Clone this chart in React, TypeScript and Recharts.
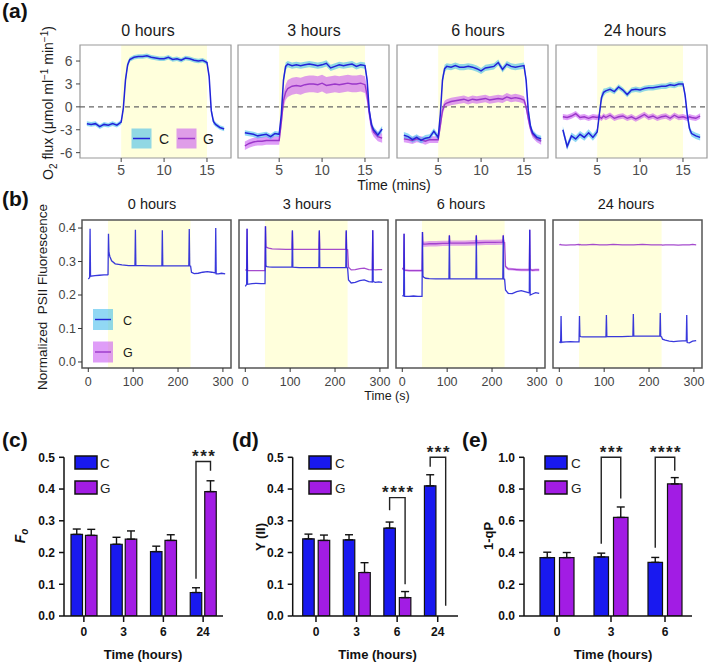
import React from 'react';
import {
  ComposedChart,
  BarChart,
  Area,
  Line,
  Bar,
  XAxis,
  YAxis,
  ReferenceArea,
  ReferenceLine,
  ErrorBar,
  LabelList,
} from 'recharts';

const FONT = '"Liberation Sans", Arial, Helvetica, sans-serif';
const YELLOW = '#FFFFDC';
const C_LINE = '#2222D8';
const G_LINE = '#9B37C9';
const C_RIBBON = '#36B8EB';
const G_RIBBON = '#C44CF2';
const RIBBON_OPACITY = 0.55;
const BAR_C = '#1919F0';
const BAR_G = '#A21CE4';
const INK = '#111111';

/* ---------- (a) O2 flux, time in minutes ---------- */
const minutes = [
  1, 1.5, 2, 2.5, 3, 3.5, 4, 4.5, 5, 5.25, 5.5, 5.75, 6, 6.5, 7, 7.5, 8, 8.5, 9, 9.5,
  10, 10.5, 11, 11.5, 12, 12.5, 13, 13.5, 14, 14.5, 15, 15.25, 15.5, 15.75, 16, 16.5, 17,
];

const fluxC0 = [
  -2.2, -2.3, -2.2, -2.6, -2.3, -2.4, -2.2, -2.4, -2.0, -0.2, 3.5, 5.5, 6.2, 6.5, 6.6, 6.6,
  6.7, 6.5, 6.4, 6.3, 6.3, 6.5, 6.2, 6.3, 6.1, 6.4, 6.3, 6.1, 6.0, 6.1, 5.8, 4.0, -0.5, -1.9,
  -2.3, -2.7, -2.9,
];
const seC0 = [
  0.3, 0.3, 0.3, 0.3, 0.3, 0.3, 0.3, 0.3, 0.3, 0.4, 0.5, 0.4, 0.3, 0.3, 0.3, 0.3, 0.3, 0.3,
  0.3, 0.3, 0.3, 0.3, 0.3, 0.3, 0.3, 0.3, 0.3, 0.3, 0.3, 0.3, 0.3, 0.4, 0.5, 0.4, 0.3, 0.3, 0.3,
];

const fluxC3 = [
  -3.4, -3.5, -3.6, -3.8, -3.7, -3.6, -3.9, -3.5, -3.6, -1.0, 3.5, 5.3, 5.6, 5.4, 5.5, 5.4,
  5.5, 5.6, 5.5, 5.4, 5.5, 5.7, 5.1, 5.3, 5.5, 5.4, 5.5, 5.6, 5.3, 5.5, 5.4, 3.5, -0.5, -2.3,
  -3.0, -3.7, -2.9,
];
const seC3 = [
  0.35, 0.35, 0.35, 0.35, 0.35, 0.35, 0.35, 0.35, 0.35, 0.5, 0.6, 0.5, 0.4, 0.4, 0.4, 0.4, 0.4,
  0.4, 0.4, 0.4, 0.4, 0.4, 0.4, 0.4, 0.4, 0.4, 0.4, 0.4, 0.4, 0.4, 0.4, 0.5, 0.6, 0.5, 0.4, 0.4, 0.4,
];
const fluxG3 = [
  -5.1, -4.8, -4.6, -4.5, -4.5, -4.4, -4.4, -4.4, -4.4, -2.0, 0.8, 1.9, 2.4, 2.7, 2.8, 2.7,
  2.9, 3.0, 3.0, 2.9, 3.1, 2.8, 2.9, 3.0, 2.9, 3.0, 3.1, 3.0, 3.0, 3.1, 2.9, 1.5, -0.8, -2.5,
  -3.3, -3.9, -4.1,
];
const seG3 = [
  0.55, 0.55, 0.55, 0.55, 0.55, 0.55, 0.55, 0.55, 0.55, 0.8, 1.0, 1.0, 1.1, 1.1, 1.1, 1.1, 1.1,
  1.1, 1.1, 1.1, 1.1, 1.1, 1.1, 1.1, 1.1, 1.1, 1.1, 1.1, 1.1, 1.1, 1.1, 1.0, 0.9, 0.8, 0.6, 0.6, 0.6,
];

const fluxC6 = [
  -3.7, -3.9, -4.3, -4.0, -4.4, -4.1, -4.0, -3.2, -4.0, -1.0, 3.5, 5.0, 5.3, 5.2, 5.4, 5.2,
  5.2, 5.3, 5.2, 5.0, 4.7, 5.1, 5.2, 5.3, 5.8, 4.9, 5.6, 5.3, 5.2, 5.3, 5.4, 3.5, -0.5, -2.5,
  -3.4, -4.0, -4.2,
];
const seC6 = [
  0.4, 0.4, 0.4, 0.4, 0.4, 0.4, 0.4, 0.4, 0.4, 0.5, 0.6, 0.5, 0.4, 0.4, 0.4, 0.4, 0.4, 0.4,
  0.4, 0.4, 0.4, 0.4, 0.4, 0.4, 0.4, 0.4, 0.4, 0.4, 0.4, 0.4, 0.4, 0.5, 0.6, 0.5, 0.4, 0.4, 0.4,
];
const fluxG6 = [
  -4.2, -4.3, -4.4, -4.2, -4.3, -4.5, -4.3, -4.3, -4.3, -2.5, -0.5, 0.3, 0.5, 0.7, 0.8, 0.9,
  1.0, 0.8, 1.0, 0.9, 1.0, 1.1, 0.9, 1.0, 1.1, 1.0, 1.3, 1.1, 1.2, 1.1, 0.9, 0.0, -1.5, -2.8,
  -3.6, -4.2, -4.5,
];
const seG6 = [
  0.45, 0.45, 0.45, 0.45, 0.45, 0.45, 0.45, 0.45, 0.45, 0.5, 0.6, 0.5, 0.5, 0.5, 0.5, 0.5, 0.5,
  0.5, 0.5, 0.5, 0.5, 0.5, 0.5, 0.5, 0.5, 0.5, 0.5, 0.5, 0.5, 0.5, 0.5, 0.5, 0.6, 0.5, 0.45, 0.45, 0.45,
];

const fluxC24 = [
  -3.0, -5.2, -3.8, -4.2, -3.6, -4.0, -3.4, -4.0, -3.3, -1.0, 1.2, 1.9, 2.1, 2.3, 2.0, 2.6,
  2.2, 1.6, 2.2, 2.3, 2.2, 2.4, 2.5, 2.5, 2.6, 2.7, 2.7, 2.9, 2.8, 3.0, 3.0, 1.5, -1.0, -2.8,
  -3.5, -3.8, -4.0,
];
const seC24 = [
  0.45, 0.45, 0.45, 0.45, 0.45, 0.45, 0.45, 0.45, 0.45, 0.5, 0.6, 0.5, 0.35, 0.35, 0.35, 0.35,
  0.35, 0.35, 0.35, 0.35, 0.35, 0.35, 0.35, 0.35, 0.35, 0.35, 0.35, 0.35, 0.35, 0.35, 0.35, 0.5,
  0.6, 0.5, 0.4, 0.4, 0.4,
];
const fluxG24 = [
  -1.3, -1.4, -1.2, -0.9, -1.4, -1.3, -1.5, -1.3, -1.4, -1.3, -1.5, -1.2, -1.4, -1.1, -1.5,
  -1.3, -1.2, -1.5, -1.3, -1.6, -1.3, -1.0, -1.4, -1.2, -1.5, -1.3, -1.2, -1.5, -1.1, -1.4,
  -1.3, -1.4, -1.5, -1.3, -1.4, -1.5, -1.2,
];
const seG24 = [
  0.35, 0.35, 0.35, 0.35, 0.35, 0.35, 0.35, 0.35, 0.35, 0.35, 0.35, 0.35, 0.35, 0.35, 0.35,
  0.35, 0.35, 0.35, 0.35, 0.35, 0.35, 0.35, 0.35, 0.35, 0.35, 0.35, 0.35, 0.35, 0.35, 0.35,
  0.35, 0.35, 0.35, 0.35, 0.35, 0.35, 0.35,
];

const fluxPanels = [
  { title: '0 hours', c: fluxC0, cSe: seC0, g: null, gSe: null },
  { title: '3 hours', c: fluxC3, cSe: seC3, g: fluxG3, gSe: seG3 },
  { title: '6 hours', c: fluxC6, cSe: seC6, g: fluxG6, gSe: seG6 },
  { title: '24 hours', c: fluxC24, cSe: seC24, g: fluxG24, gSe: seG24 },
];
const fluxDomainX = [0.2, 17.8];
const fluxDomainY = [-6.7, 8.1];
const fluxTicksX = [5, 10, 15];
const fluxTicksY = [-6, -3, 0, 3, 6];

/* ---------- (b) PSII fluorescence, time in seconds ---------- */
const seconds = [
  0, 3, 4, 5, 15, 25, 35, 43, 44, 45, 46, 48, 52, 60, 75, 90, 104, 105, 106, 120, 140, 164,
  165, 166, 185, 205, 224, 225, 226, 228, 230, 236, 245, 255, 265, 275, 283, 284, 285, 290,
  297, 305,
];

const fluoC0 = [
  0.248, 0.252, 0.398, 0.256, 0.258, 0.259, 0.26, 0.26, 0.261, 0.383, 0.328, 0.315, 0.302,
  0.293, 0.29, 0.288, 0.288, 0.395, 0.288, 0.288, 0.287, 0.287, 0.393, 0.287, 0.287, 0.287,
  0.287, 0.397, 0.287, 0.286, 0.268, 0.264, 0.265, 0.268, 0.27, 0.268, 0.266, 0.4, 0.263,
  0.263, 0.265, 0.263,
];
const fluoC3 = [
  0.226, 0.232, 0.398, 0.232, 0.234, 0.235, 0.234, 0.234, 0.234, 0.405, 0.287, 0.285, 0.284,
  0.283, 0.283, 0.283, 0.283, 0.393, 0.283, 0.282, 0.282, 0.282, 0.393, 0.282, 0.282, 0.282,
  0.282, 0.393, 0.282, 0.281, 0.245, 0.236, 0.238, 0.243, 0.245, 0.24, 0.239, 0.393, 0.24,
  0.238, 0.239, 0.238,
];
const fluoG3 = [
  0.275, 0.274, 0.398, 0.273, 0.273, 0.273, 0.273, 0.273, 0.273, 0.405, 0.344, 0.342, 0.34,
  0.338, 0.337, 0.336, 0.336, 0.39, 0.336, 0.336, 0.336, 0.336, 0.39, 0.336, 0.336, 0.336,
  0.336, 0.39, 0.336, 0.335, 0.283, 0.275, 0.276, 0.279, 0.28, 0.276, 0.275, 0.393, 0.276,
  0.275, 0.276, 0.276,
];
const fluoC6 = [
  0.198, 0.197, 0.383, 0.196, 0.196, 0.197, 0.196, 0.196, 0.196, 0.388, 0.256, 0.253, 0.25,
  0.249, 0.248, 0.248, 0.248, 0.378, 0.248, 0.248, 0.248, 0.248, 0.378, 0.248, 0.248, 0.248,
  0.248, 0.378, 0.248, 0.247, 0.215, 0.205, 0.204, 0.21, 0.213, 0.209, 0.206, 0.395, 0.2,
  0.203, 0.207, 0.205,
];
const fluoG6 = [
  0.28, 0.276, 0.383, 0.274, 0.273, 0.273, 0.273, 0.273, 0.273, 0.388, 0.352, 0.352, 0.352,
  0.353, 0.353, 0.354, 0.354, 0.378, 0.355, 0.355, 0.355, 0.356, 0.378, 0.356, 0.357, 0.357,
  0.358, 0.378, 0.358, 0.357, 0.285, 0.278, 0.277, 0.276, 0.275, 0.275, 0.275, 0.395, 0.276,
  0.274, 0.275, 0.275,
];
const fluoG6Se = [
  0.003, 0.003, 0.003, 0.003, 0.003, 0.003, 0.003, 0.003, 0.003, 0.008, 0.008, 0.008, 0.008,
  0.008, 0.008, 0.008, 0.008, 0.008, 0.008, 0.008, 0.008, 0.008, 0.008, 0.008, 0.008, 0.008,
  0.008, 0.008, 0.008, 0.008, 0.004, 0.004, 0.004, 0.004, 0.004, 0.004, 0.004, 0.004, 0.004,
  0.004, 0.004, 0.004,
];
const fluoC24 = [
  0.06, 0.058, 0.137, 0.059, 0.06, 0.061, 0.06, 0.06, 0.06, 0.137, 0.077, 0.076, 0.075, 0.075,
  0.075, 0.075, 0.075, 0.14, 0.076, 0.076, 0.076, 0.077, 0.143, 0.077, 0.077, 0.077, 0.077,
  0.146, 0.077, 0.075, 0.068, 0.065, 0.062, 0.061, 0.062, 0.063, 0.063, 0.14, 0.058, 0.057,
  0.062, 0.064,
];
const fluoG24 = [
  0.35, 0.351, 0.35, 0.35, 0.349, 0.35, 0.35, 0.351, 0.35, 0.35, 0.351, 0.35, 0.35, 0.35,
  0.351, 0.35, 0.35, 0.35, 0.35, 0.351, 0.35, 0.35, 0.35, 0.35, 0.351, 0.35, 0.35, 0.35, 0.35,
  0.35, 0.349, 0.35, 0.35, 0.35, 0.349, 0.35, 0.35, 0.35, 0.35, 0.35, 0.351, 0.35,
];

const fluoPanels = [
  { title: '0 hours', c: fluoC0, g: null, gSe: null },
  { title: '3 hours', c: fluoC3, g: fluoG3, gSe: null },
  { title: '6 hours', c: fluoC6, g: fluoG6, gSe: fluoG6Se },
  { title: '24 hours', c: fluoC24, g: fluoG24, gSe: null },
];
const fluoDomainX = [-14, 318];
const fluoDomainY = [-0.018, 0.424];
const fluoTicksX = [0, 100, 200, 300];
const fluoTicksY = [0, 0.1, 0.2, 0.3, 0.4];

/* ---------- (c)–(e) bar summaries ---------- */
const hoursFour = ['0', '3', '6', '24'];
const hoursThree = ['0', '3', '6'];

const foC = [0.257, 0.226, 0.203, 0.074];
const foCErr = [0.017, 0.022, 0.017, 0.015];
const foG = [0.254, 0.242, 0.238, 0.392];
const foGErr = [0.019, 0.026, 0.018, 0.034];
const foSig = [null, null, null, { top: 0.487, left: 0.117, right: 0.458, stars: '***' }];

const yiiC = [0.243, 0.24, 0.277, 0.41];
const yiiCErr = [0.015, 0.016, 0.019, 0.035];
const yiiG = [0.238, 0.137, 0.058, null];
const yiiGErr = [0.017, 0.031, 0.019, null];
const yiiSig = [
  null,
  null,
  { top: 0.373, left: 0.333, right: 0.1, stars: '****' },
  { top: 0.5, left: 0.47, right: 0.032, stars: '***' },
];

const qpC = [0.368, 0.372, 0.338];
const qpCErr = [0.034, 0.024, 0.031];
const qpG = [0.368, 0.621, 0.832];
const qpGErr = [0.032, 0.066, 0.04];
const qpSig = [
  null,
  { top: 1.0, left: 0.455, right: 0.74, stars: '***' },
  { top: 1.0, left: 0.43, right: 0.915, stars: '****' },
];

/* ---------- layout ---------- */
const A_X = [80, 238, 397, 556];
const A_W = 151;
const A_TOP = 45;
const A_H = 113;
const B_X = [82, 239, 396, 553];
const B_W = 149;
const B_TOP = 220;
const B_H = 148;
const M = 3;

const tickText = (size: number, fill: string) => ({ fontSize: size, fill, fontFamily: FONT });

function FluxFacet({ index }: { index: number }) {
  const p = fluxPanels[index];
  const rows = minutes.map((t, i) => ({
    t,
    c: p.c[i],
    cBand: [p.c[i] - p.cSe[i], p.c[i] + p.cSe[i]],
    g: p.g ? p.g[i] : null,
    gBand: p.g && p.gSe ? [p.g[i] - p.gSe[i], p.g[i] + p.gSe[i]] : null,
  }));
  const showY = index === 0;
  const yW = showY ? 40 : 0;
  return (
    <div style={{ position: 'absolute', left: A_X[index] - yW - M, top: A_TOP - M }}>
      <ComposedChart
        width={yW + A_W + 2 * M}
        height={M + A_H + 26}
        data={rows}
        margin={{ top: M, right: M, left: M, bottom: 0 }}
      >
        <XAxis
          dataKey="t"
          type="number"
          domain={fluxDomainX}
          ticks={fluxTicksX}
          allowDataOverflow
          interval={0}
          height={26}
          axisLine={false}
          tickSize={4}
          tickMargin={3}
          tickLine={{ stroke: '#444' }}
          tick={tickText(14, '#4D4D4D')}
        />
        <YAxis
          type="number"
          domain={fluxDomainY}
          ticks={fluxTicksY}
          allowDataOverflow
          interval={0}
          hide={!showY}
          width={40}
          axisLine={false}
          tickSize={4}
          tickMargin={3.5}
          tickLine={{ stroke: '#444' }}
          tick={tickText(14, '#4D4D4D')}
        />
        <ReferenceArea x1={5} x2={15} fill={YELLOW} fillOpacity={1} stroke="none" />
        <ReferenceLine y={0} stroke="#666" strokeWidth={1.1} strokeDasharray="5 4" />
        {p.g && (
          <Area
            dataKey="gBand"
            type="linear"
            stroke="none"
            fill={G_RIBBON}
            fillOpacity={RIBBON_OPACITY}
            isAnimationActive={false}
            activeDot={false}
          />
        )}
        <Area
          dataKey="cBand"
          type="linear"
          stroke="none"
          fill={C_RIBBON}
          fillOpacity={RIBBON_OPACITY}
          isAnimationActive={false}
          activeDot={false}
        />
        {p.g && (
          <Line
            dataKey="g"
            type="linear"
            stroke={G_LINE}
            strokeWidth={1.4}
            dot={false}
            activeDot={false}
            isAnimationActive={false}
          />
        )}
        <Line
          dataKey="c"
          type="linear"
          stroke={C_LINE}
          strokeWidth={1.5}
          dot={false}
          activeDot={false}
          isAnimationActive={false}
        />
        {/* panel frame */}
        <ReferenceArea
          x1={fluxDomainX[0]}
          x2={fluxDomainX[1]}
          y1={fluxDomainY[0]}
          y2={fluxDomainY[1]}
          ifOverflow="visible"
          fill="none"
          fillOpacity={0}
          stroke="#9A9A9A"
          strokeWidth={1.2}
        />
      </ComposedChart>
    </div>
  );
}

function FluoFacet({ index }: { index: number }) {
  const p = fluoPanels[index];
  const rows = seconds.map((t, i) => ({
    t,
    c: p.c[i],
    g: p.g ? p.g[i] : null,
    gBand: p.g && p.gSe ? [p.g[i] - p.gSe[i], p.g[i] + p.gSe[i]] : null,
  }));
  const showY = index === 0;
  const yW = showY ? 40 : 0;
  return (
    <div style={{ position: 'absolute', left: B_X[index] - yW - M, top: B_TOP - M }}>
      <ComposedChart
        width={yW + B_W + 2 * M}
        height={M + B_H + 26}
        data={rows}
        margin={{ top: M, right: M, left: M, bottom: 0 }}
      >
        <XAxis
          dataKey="t"
          type="number"
          domain={fluoDomainX}
          ticks={fluoTicksX}
          allowDataOverflow
          interval={0}
          height={26}
          axisLine={false}
          tickSize={4}
          tickMargin={5}
          tickLine={{ stroke: '#333' }}
          tick={tickText(12.5, '#444')}
        />
        <YAxis
          type="number"
          domain={fluoDomainY}
          ticks={fluoTicksY}
          tickFormatter={(v: number) => v.toFixed(1)}
          allowDataOverflow
          interval={0}
          hide={!showY}
          width={40}
          axisLine={false}
          tickSize={4}
          tickMargin={2}
          tickLine={{ stroke: '#333' }}
          tick={tickText(12.5, '#444')}
        />
        <ReferenceArea x1={44} x2={228} fill={YELLOW} fillOpacity={1} stroke="none" />
        {p.gSe && (
          <Area
            dataKey="gBand"
            type="linear"
            stroke="none"
            fill={G_RIBBON}
            fillOpacity={0.5}
            isAnimationActive={false}
            activeDot={false}
          />
        )}
        {p.g && (
          <Line
            dataKey="g"
            type="linear"
            stroke={G_LINE}
            strokeWidth={1.3}
            strokeOpacity={0.9}
            dot={false}
            activeDot={false}
            isAnimationActive={false}
          />
        )}
        <Line
          dataKey="c"
          type="linear"
          stroke={C_LINE}
          strokeWidth={1.3}
          strokeOpacity={0.9}
          dot={false}
          activeDot={false}
          isAnimationActive={false}
        />
        {/* panel frame */}
        <ReferenceArea
          x1={fluoDomainX[0]}
          x2={fluoDomainX[1]}
          y1={fluoDomainY[0]}
          y2={fluoDomainY[1]}
          ifOverflow="visible"
          fill="none"
          fillOpacity={0}
          stroke="#555"
          strokeWidth={1.5}
        />
      </ComposedChart>
    </div>
  );
}

type Sig = { top: number; left: number; right: number; stars: string } | null;

// Significance bracket drawn from the C bar's own geometry: the C bar fixes the
// value-to-pixel ratio, and the G bar sits one bar width plus the bar gap to its right.
function bracketRenderer(values: number[], sigs: Sig[], gap: number) {
  return (props: any) => {
    const i = typeof props.index === 'number' ? props.index : values.indexOf(props.value);
    const s = sigs[i];
    if (!s) return null;
    const box =
      props.viewBox && typeof props.viewBox.height === 'number' ? props.viewBox : props;
    const { x, y, width, height } = box;
    const v = values[i];
    if (!v || !height) return null;
    const unit = height / v;
    const base = y + height;
    const py = (u: number) => base - u * unit;
    const x1 = x + width / 2;
    const x2 = x1 + width + gap;
    const yt = py(s.top);
    return (
      <g>
        <path
          d={`M${x1},${py(s.left)}V${yt}H${x2}V${py(s.right)}`}
          fill="none"
          stroke="#222"
          strokeWidth={1.4}
        />
        <text
          x={(x1 + x2) / 2 + 1}
          y={yt + 0.5}
          textAnchor="middle"
          fontFamily={FONT}
          fontWeight="bold"
          fontSize={17}
          letterSpacing={1.5}
          fill="#222"
        >
          {s.stars}
        </text>
      </g>
    );
  };
}

type BarCfg = {
  left: number;
  width: number;
  margin: { top: number; right: number; bottom: number; left: number };
  pad: number;
  barSize: number;
  gap: number;
  cats: string[];
  c: number[];
  cErr: number[];
  g: (number | null)[];
  gErr: (number | null)[];
  max: number;
  ticks: number[];
  sig: Sig[];
};

const barPanels: BarCfg[] = [
  {
    left: 0,
    width: 232,
    margin: { top: 27.3, right: 9, bottom: 19, left: 20 },
    pad: 0,
    barSize: 11.5,
    gap: 3,
    cats: hoursFour,
    c: foC,
    cErr: foCErr,
    g: foG,
    gErr: foGErr,
    max: 0.5,
    ticks: [0, 0.1, 0.2, 0.3, 0.4, 0.5],
    sig: foSig,
  },
  {
    left: 232,
    width: 232,
    margin: { top: 27.3, right: 6, bottom: 19, left: 16.7 },
    pad: 3,
    barSize: 11.5,
    gap: 4,
    cats: hoursFour,
    c: yiiC,
    cErr: yiiCErr,
    g: yiiG,
    gErr: yiiGErr,
    max: 0.5,
    ticks: [0, 0.1, 0.2, 0.3, 0.4, 0.5],
    sig: yiiSig,
  },
  {
    left: 464,
    width: 245,
    margin: { top: 27.3, right: 17, bottom: 19, left: 16 },
    pad: 6,
    barSize: 14.5,
    gap: 5,
    cats: hoursThree,
    c: qpC,
    cErr: qpCErr,
    g: qpG,
    gErr: qpGErr,
    max: 1.0,
    ticks: [0, 0.2, 0.4, 0.6, 0.8, 1.0],
    sig: qpSig,
  },
];

function BarPanel({ cfg }: { cfg: BarCfg }) {
  const rows = cfg.cats.map((cat, i) => ({
    cat,
    c: cfg.c[i],
    g: cfg.g[i],
    cErr: cfg.cErr[i],
    gErr: cfg.gErr[i],
  }));
  const axisStroke = { stroke: INK, strokeWidth: 1.5 };
  const boldTick = { fontSize: 12, fontWeight: 'bold', fill: INK, fontFamily: FONT };
  return (
    <div style={{ position: 'absolute', left: cfg.left, top: 430 }}>
      <BarChart
        width={cfg.width}
        height={235}
        data={rows}
        margin={cfg.margin}
        barGap={cfg.gap}
        barSize={cfg.barSize}
      >
        <XAxis
          dataKey="cat"
          padding={{ left: cfg.pad, right: 0 }}
          interval={0}
          height={30}
          tickSize={6}
          tickMargin={5}
          axisLine={axisStroke}
          tickLine={axisStroke}
          tick={boldTick}
        />
        <YAxis
          type="number"
          domain={[0, cfg.max]}
          ticks={cfg.ticks}
          tickFormatter={(v: number) => v.toFixed(1)}
          allowDataOverflow
          interval={0}
          width={44}
          tickSize={5}
          tickMargin={4}
          axisLine={axisStroke}
          tickLine={axisStroke}
          tick={boldTick}
        />
        <Bar dataKey="c" fill={BAR_C} stroke={INK} strokeWidth={1.2} isAnimationActive={false}>
          <ErrorBar
            dataKey={(d: any) => (d.cErr == null ? null : [0, d.cErr])}
            direction="y"
            width={4}
            stroke={INK}
            strokeWidth={1.4}
            isAnimationActive={false}
          />
          <LabelList dataKey="c" content={bracketRenderer(cfg.c, cfg.sig, cfg.gap)} />
        </Bar>
        <Bar dataKey="g" fill={BAR_G} stroke={INK} strokeWidth={1.2} isAnimationActive={false}>
          <ErrorBar
            dataKey={(d: any) => (d.gErr == null ? null : [0, d.gErr])}
            direction="y"
            width={4}
            stroke={INK}
            strokeWidth={1.4}
            isAnimationActive={false}
          />
        </Bar>
      </BarChart>
    </div>
  );
}

const txt = { fontFamily: FONT };

function Annotations() {
  const stripA = [148, 314, 478, 635];
  const stripB = [152, 307, 461, 626];
  const barLegends = [
    { box: 75, text: 100 },
    { box: 309, text: 335 },
    { box: 545, text: 571 },
  ];
  const barTitles = [143, 377.5, 613];
  return (
    <svg
      width={709}
      height={665}
      style={{ position: 'absolute', left: 0, top: 0, pointerEvents: 'none' }}
    >
      {/* panel letters */}
      {[
        ['(a)', 2, 18],
        ['(b)', 2, 206],
        ['(c)', 2, 447],
        ['(d)', 232, 447],
        ['(e)', 462, 447],
      ].map(([s, x, y]) => (
        <text key={s as string} x={x as number} y={y as number} fontSize={21} fontWeight="bold" fill="#111" {...txt}>
          {s}
        </text>
      ))}

      {/* facet strips */}
      {fluxPanels.map((p, i) => (
        <text key={'sa' + i} x={stripA[i]} y={36} fontSize={16} textAnchor="middle" fill="#1A1A1A" {...txt}>
          {p.title}
        </text>
      ))}
      {fluoPanels.map((p, i) => (
        <text key={'sb' + i} x={stripB[i]} y={209} fontSize={14.5} textAnchor="middle" fill="#1A1A1A" {...txt}>
          {p.title}
        </text>
      ))}

      {/* (a) axis titles */}
      <text transform="translate(53,103) rotate(-90)" textAnchor="middle" fontSize={14} fill="#1A1A1A" {...txt}>
        O<tspan fontSize={10} dy={4}>2</tspan>
        <tspan dy={-4}> flux (μmol ml</tspan>
        <tspan fontSize={10} dy={-5}>−1</tspan>
        <tspan dy={5}> min</tspan>
        <tspan fontSize={10} dy={-5}>−1</tspan>
        <tspan dy={5}>)</tspan>
      </text>
      <text x={394} y={190} fontSize={14} textAnchor="middle" fill="#1A1A1A" {...txt}>
        Time (mins)
      </text>

      {/* (a) legend */}
      <rect x={131.5} y={128.5} width={20} height={20} fill={C_RIBBON} fillOpacity={RIBBON_OPACITY} />
      <line x1={133} x2={150} y1={138.5} y2={138.5} stroke={C_LINE} strokeWidth={1.5} />
      <text x={159} y={143.5} fontSize={14} fill="#1A1A1A" {...txt}>C</text>
      <rect x={176.5} y={128.5} width={20} height={20} fill={G_RIBBON} fillOpacity={RIBBON_OPACITY} />
      <line x1={178} x2={195} y1={138.5} y2={138.5} stroke={G_LINE} strokeWidth={1.5} />
      <text x={203} y={143.5} fontSize={14} fill="#1A1A1A" {...txt}>G</text>

      {/* (b) axis titles */}
      <text
        transform="translate(47,297) rotate(-90)"
        textAnchor="middle"
        fontSize={13.5}
        fill="#1A1A1A"
        style={{ whiteSpace: 'pre' }}
        {...txt}
      >
        {'Normalized  PSII Fluorescence'}
      </text>
      <text x={387} y={400} fontSize={12.5} textAnchor="middle" fill="#1A1A1A" {...txt}>
        Time (s)
      </text>

      {/* (b) legend */}
      <rect x={93} y={309} width={20} height={21} fill={C_RIBBON} fillOpacity={RIBBON_OPACITY} />
      <line x1={95} x2={111} y1={319.5} y2={319.5} stroke={C_LINE} strokeWidth={1.4} />
      <text x={123} y={324.5} fontSize={12.5} fill="#1A1A1A" {...txt}>C</text>
      <rect x={93} y={341.5} width={20} height={21} fill={G_RIBBON} fillOpacity={RIBBON_OPACITY} />
      <line x1={95} x2={111} y1={352} y2={352} stroke={G_LINE} strokeWidth={1.4} />
      <text x={123} y={356.5} fontSize={12.5} fill="#1A1A1A" {...txt}>G</text>

      {/* bar panel legends and titles */}
      {barLegends.map((l, i) => (
        <g key={'bl' + i}>
          <rect x={l.box} y={456} width={22} height={13} fill={BAR_C} stroke={INK} strokeWidth={1.5} />
          <text x={l.text} y={467.5} fontSize={13.5} fill="#222" {...txt}>C</text>
          <rect x={l.box} y={481} width={22} height={13} fill={BAR_G} stroke={INK} strokeWidth={1.5} />
          <text x={l.text} y={492.5} fontSize={13.5} fill="#222" {...txt}>G</text>
        </g>
      ))}
      {barTitles.map((x, i) => (
        <text key={'bt' + i} x={x} y={659} fontSize={13} fontWeight="bold" textAnchor="middle" fill={INK} {...txt}>
          Time (hours)
        </text>
      ))}
      <text transform="translate(25,536) rotate(-90)" textAnchor="middle" fontSize={14} fontWeight="bold" fontStyle="italic" fill={INK} {...txt}>
        F<tspan fontSize={10} dy={3}>o</tspan>
      </text>
      <text transform="translate(265,537) rotate(-90)" textAnchor="middle" fontSize={13} fontWeight="bold" fill={INK} {...txt}>
        Y (II)
      </text>
      <text transform="translate(493,536) rotate(-90)" textAnchor="middle" fontSize={13} fontWeight="bold" fill={INK} {...txt}>
        1-qP
      </text>
    </svg>
  );
}

export default function App() {
  return (
    <div
      style={{
        position: 'absolute',
        left: 0,
        top: 0,
        width: 709,
        height: 665,
        background: '#FFFFFF',
        overflow: 'hidden',
        fontFamily: FONT,
      }}
    >
      {fluxPanels.map((_, i) => (
        <FluxFacet key={'a' + i} index={i} />
      ))}
      {fluoPanels.map((_, i) => (
        <FluoFacet key={'b' + i} index={i} />
      ))}
      {barPanels.map((cfg, i) => (
        <BarPanel key={'bar' + i} cfg={cfg} />
      ))}
      <Annotations />
    </div>
  );
}
